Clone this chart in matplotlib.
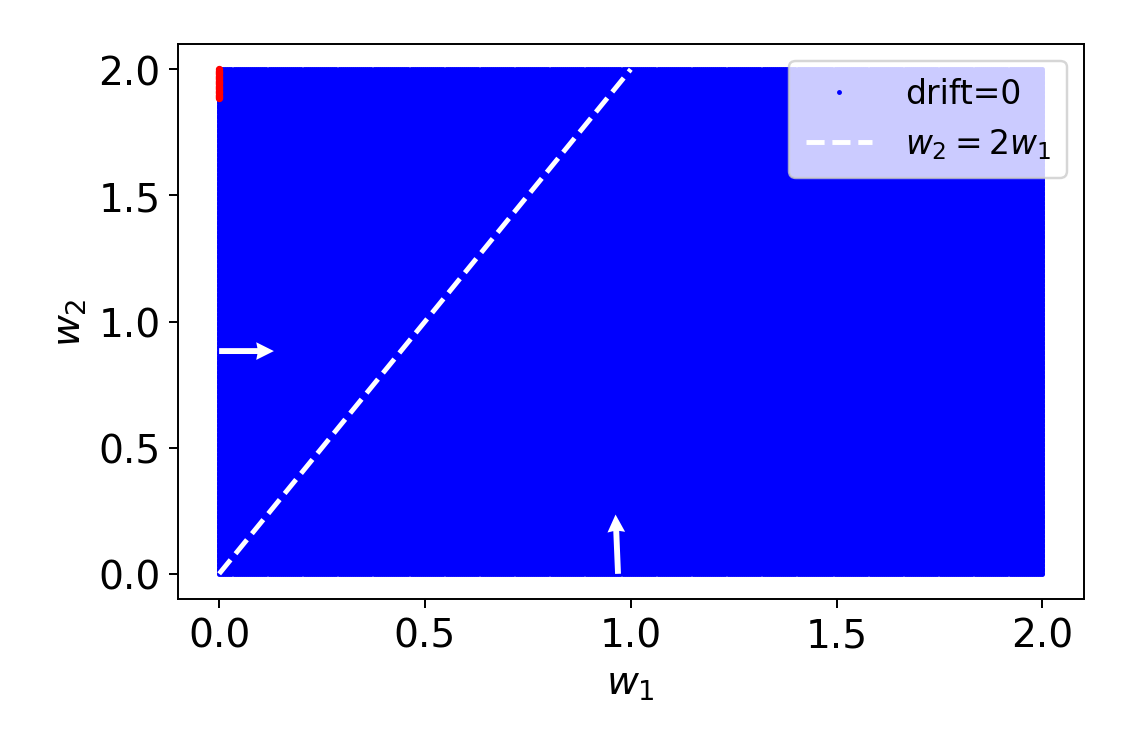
import numpy as np
import matplotlib

matplotlib.use("Agg")
import matplotlib.pyplot as plt

# grid of weights where drift = 0
w1_grid = np.linspace(0, 2, 401)
w2_grid = np.linspace(0, 2, 401)

# red points on the w1 = 0 edge
red_w1 = 0.0
red_w2_min, red_w2_max = 1.885, 2.0

# line w2 = 2 w1
line_w1 = [0.0, 1.0]
line_w2 = [0.0, 2.0]

# arrows: tail and vector
arrow_x = [0.0, 0.969]
arrow_y = [0.883, 0.0]
arrow_u = [0.133, -0.006]
arrow_v = [0.0, 0.235]

fig = plt.figure(figsize=(6.4, 4.267), dpi=176)
ax = fig.add_axes([0.158, 0.201, 0.804, 0.739])

W1, W2 = np.meshgrid(w1_grid, w2_grid)
ax.plot(W1.ravel(), W2.ravel(), ".", color="blue", markersize=2, label="drift=0")

red_w2 = w2_grid[(w2_grid >= red_w2_min) & (w2_grid <= red_w2_max)]
ax.plot(np.full_like(red_w2, red_w1), red_w2, ".", color="red", markersize=4)

ax.plot(line_w1, line_w2, "--", color="white", linewidth=2, label="$w_2 = 2w_1$")

ax.quiver(
    arrow_x,
    arrow_y,
    arrow_u,
    arrow_v,
    angles="xy",
    scale_units="xy",
    scale=1,
    color="white",
    width=0.0065,
    headwidth=3,
    headlength=3,
    headaxislength=2.8,
    zorder=5,
)

ax.set_xlabel("$w_1$", fontsize=16)
ax.set_ylabel("$w_2$", fontsize=16)
ax.tick_params(labelsize=16)
ax.set_xticks([0.0, 0.5, 1.0, 1.5, 2.0])
ax.set_yticks([0.0, 0.5, 1.0, 1.5, 2.0])
ax.legend(loc="upper right", fontsize=13.5, handletextpad=1.0, borderpad=0.5)

fig.savefig("out.png", dpi=176)
